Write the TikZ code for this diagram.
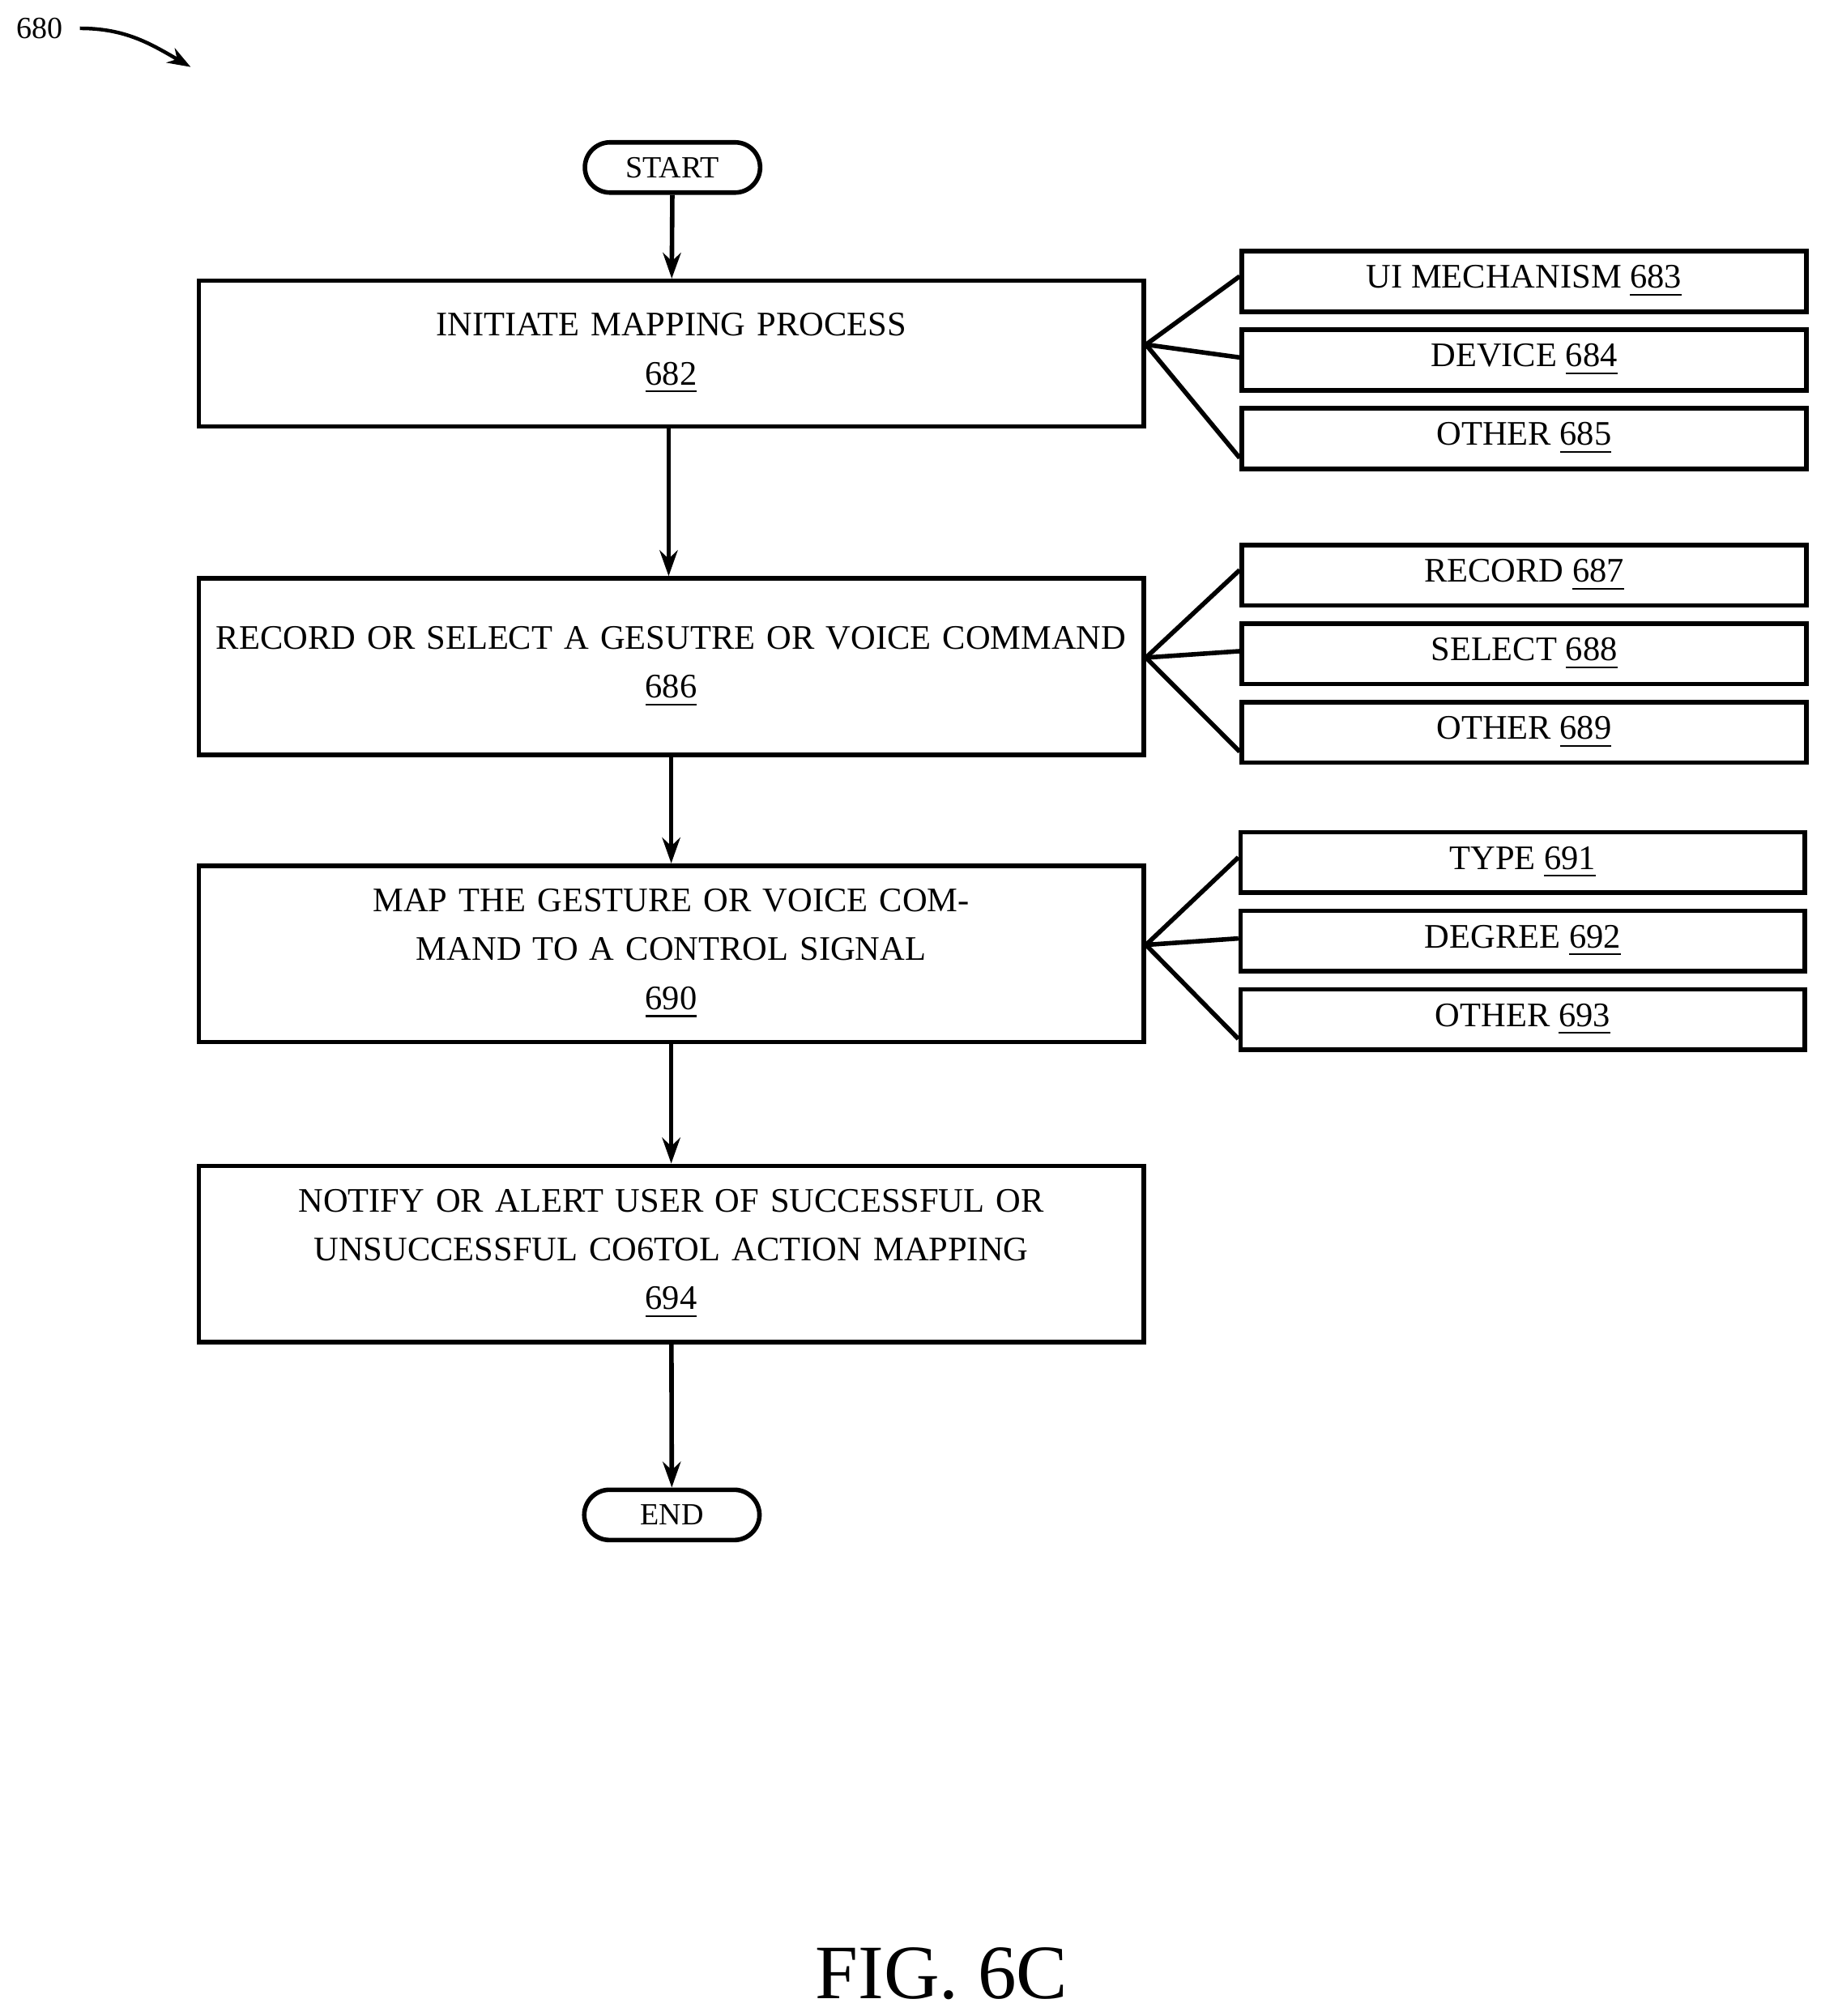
\documentclass[tikz,border=0pt]{standalone}
\usepackage{fontspec}
\setmainfont{Liberation Serif}
\usetikzlibrary{positioning, shapes, arrows.meta}

\tikzset{
    stepbox/.style={draw, line width=1pt, minimum width=7.26cm, text width=7.1cm,
        align=center, font=\fontsize{7.6}{10.8}\selectfont},
    side/.style={draw, line width=1pt, minimum width=4.38cm, minimum height=0.47cm,
        inner sep=0pt, font=\fontsize{7.6}{9}\selectfont},
    term/.style={draw, line width=1pt, rounded rectangle, minimum width=1.36cm,
        minimum height=0.39cm, inner sep=0pt, font=\fontsize{6.8}{8}\selectfont},
    flow/.style={line width=1pt, -{Stealth[length=0.2cm, width=0.14cm]}},
    fan/.style={line width=1pt}
}

\begin{document}
\begin{tikzpicture}
    \useasboundingbox (0,0) rectangle (14.13,-15.65);

    \node[font=\fontsize{6.8}{8}\selectfont] (fignum) at (0.31,-0.22) {680};
    \coordinate (figtip) at (1.48,-0.52);
    \draw[line width=0.8pt, -{Stealth[length=0.18cm, width=0.13cm]}]
        (0.62,-0.22) to[out=0, in=150] (figtip);

    \node[term] (start) at (5.22,-1.30) {START};
    \node[stepbox, minimum height=1.13cm] (b682) at (5.21,-2.745)
        {INITIATE MAPPING PROCESS\\\underline{682}};
    \node[stepbox, minimum height=1.37cm] (b686) at (5.21,-5.175)
        {RECORD OR SELECT A GESUTRE OR VOICE COMMAND\\\underline{686}};
    \node[stepbox, minimum height=1.37cm] (b690) at (5.21,-7.405)
        {MAP THE GESTURE OR VOICE COMMAND TO A CONTROL SIGNAL\\\underline{690}};
    \node[stepbox, minimum height=1.37cm] (b694) at (5.21,-9.735)
        {NOTIFY OR ALERT USER OF SUCCESSFUL OR UNSUCCESSFUL CO6TOL ACTION MAPPING\\\underline{694}};
    \node[term] (end) at (5.215,-11.76) {END};

    % side boxes
    \node[side] (s683) at (11.83,-2.185) {UI MECHANISM \underline{683}};
    \node[side] (s684) at (11.83,-2.795) {DEVICE \underline{684}};
    \node[side] (s685) at (11.83,-3.405) {OTHER \underline{685}};
    \node[side] (s687) at (11.83,-4.465) {RECORD \underline{687}};
    \node[side] (s688) at (11.83,-5.075) {SELECT \underline{688}};
    \node[side] (s689) at (11.83,-5.685) {OTHER \underline{689}};
    \node[side] (s691) at (11.82,-6.695) {TYPE \underline{691}};
    \node[side] (s692) at (11.82,-7.305) {DEGREE \underline{692}};
    \node[side] (s693) at (11.82,-7.915) {OTHER \underline{693}};

    \node[font=\fontsize{17}{20}\selectfont] (fig) at (7.31,-15.32) {FIG. 6C};

    % flow arrows
    \draw[flow] (start) -- (b682);
    \draw[flow] ([xshift=-0.02cm]b682.south) -- ([xshift=-0.02cm]b686.north);
    \draw[flow] (b686) -- (b690);
    \draw[flow] (b690) -- (b694);
    \draw[flow] (b694) -- (end);

    % fans
    \foreach \b/\u/\m/\l in {b682/s683/s684/s685, b686/s687/s688/s689, b690/s691/s692/s693} {
        \draw[fan] ([yshift=0.07cm]\b.east) -- ([yshift=0.04cm]\u.west);
        \draw[fan] ([yshift=0.07cm]\b.east) -- ([yshift=0.02cm]\m.west);
        \draw[fan] ([yshift=0.07cm]\b.east) -- ([yshift=-0.15cm]\l.west);
    }
\end{tikzpicture}
\end{document}
